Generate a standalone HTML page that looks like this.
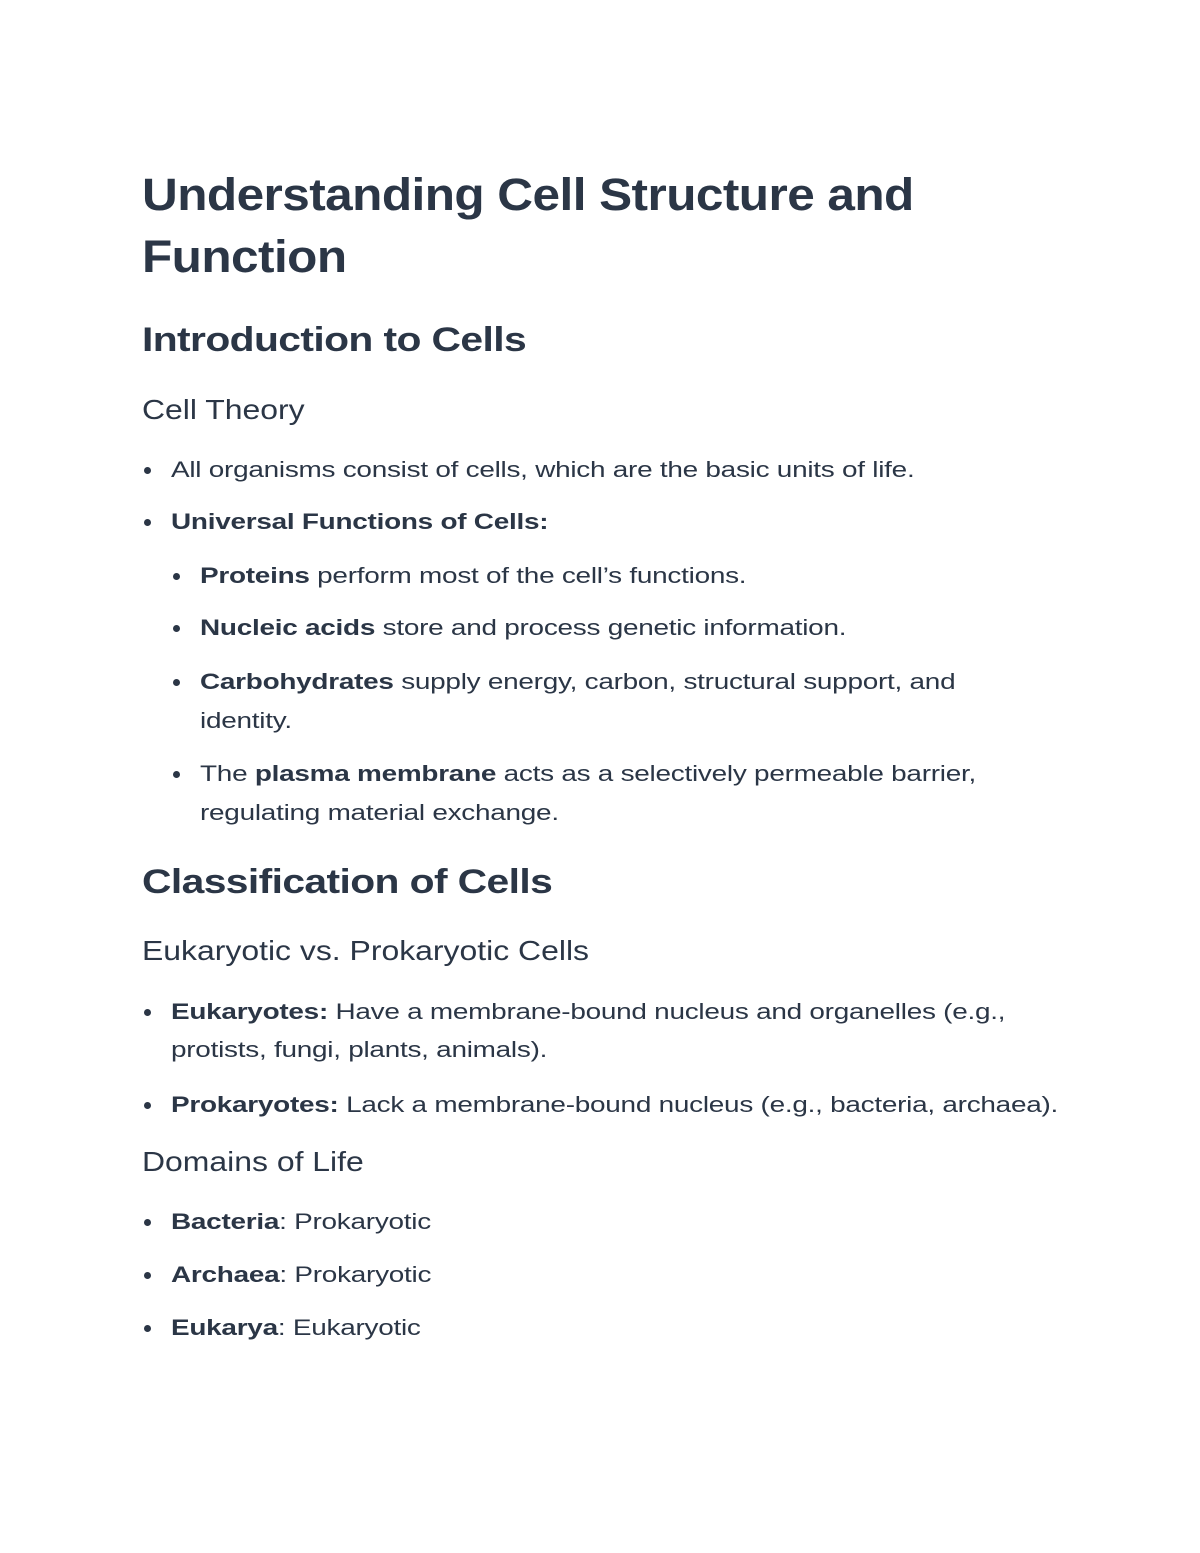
<!DOCTYPE html>
<html><head><meta charset="utf-8"><style>
body{margin:0;width:1200px;height:1553px;background:#fff;position:relative;font-family:"Liberation Sans",sans-serif;color:#2b3646;overflow:hidden}
.l{position:absolute;white-space:nowrap;transform-origin:0 50%;}
.t{font-size:45px;font-weight:bold;line-height:60px;height:60px;left:142px;letter-spacing:-0.5px;transform:scaleX(1.10)}
.h2{font-size:34px;font-weight:bold;line-height:44px;height:44px;left:142px;letter-spacing:-0.5px;transform:scaleX(1.2)}
.h3{font-size:28px;line-height:36px;height:36px;left:142px;transform:scaleX(1.14)}
.b{font-size:22.5px;line-height:30px;height:30px;letter-spacing:-0.2px;transform:scaleX(1.24)}
.d{position:absolute;width:7px;height:7px;border-radius:50%;background:#2b3646}
</style></head><body>
<div class="l t" style="top:165px">Understanding Cell Structure and</div>
<div class="l t" style="top:227px">Function</div>
<div class="l h2" style="top:318px">Introduction to Cells</div>
<div class="l h3" style="top:392px">Cell Theory</div>

<div class="d" style="left:144px;top:467px"></div>
<div class="l b" style="left:171px;top:455px">All organisms consist of cells, which are the basic units of life.</div>
<div class="d" style="left:144px;top:519px"></div>
<div class="l b" style="left:171px;top:507px"><b>Universal Functions of Cells:</b></div>

<div class="d" style="left:173px;top:573px"></div>
<div class="l b" style="left:200px;top:561px"><b>Proteins</b> perform most of the cell’s functions.</div>
<div class="d" style="left:173px;top:625px"></div>
<div class="l b" style="left:200px;top:613px"><b>Nucleic acids</b> store and process genetic information.</div>
<div class="d" style="left:173px;top:679px"></div>
<div class="l b" style="left:200px;top:667px"><b>Carbohydrates</b> supply energy, carbon, structural support, and</div>
<div class="l b" style="left:200px;top:706px">identity.</div>
<div class="d" style="left:173px;top:771px"></div>
<div class="l b" style="left:200px;top:759px">The <b>plasma membrane</b> acts as a selectively permeable barrier,</div>
<div class="l b" style="left:200px;top:798px">regulating material exchange.</div>

<div class="l h2" style="top:860px">Classification of Cells</div>
<div class="l h3" style="top:933px">Eukaryotic vs. Prokaryotic Cells</div>
<div class="d" style="left:144px;top:1009px"></div>
<div class="l b" style="left:171px;top:997px"><b>Eukaryotes:</b> Have a membrane-bound nucleus and organelles (e.g.,</div>
<div class="l b" style="left:171px;top:1035px">protists, fungi, plants, animals).</div>
<div class="d" style="left:144px;top:1102px"></div>
<div class="l b" style="left:171px;top:1090px"><b>Prokaryotes:</b> Lack a membrane-bound nucleus (e.g., bacteria, archaea).</div>

<div class="l h3" style="top:1144px">Domains of Life</div>
<div class="d" style="left:144px;top:1219px"></div>
<div class="l b" style="left:171px;top:1207px"><b>Bacteria</b>: Prokaryotic</div>
<div class="d" style="left:144px;top:1272px"></div>
<div class="l b" style="left:171px;top:1260px"><b>Archaea</b>: Prokaryotic</div>
<div class="d" style="left:144px;top:1325px"></div>
<div class="l b" style="left:171px;top:1313px"><b>Eukarya</b>: Eukaryotic</div>
</body></html>
